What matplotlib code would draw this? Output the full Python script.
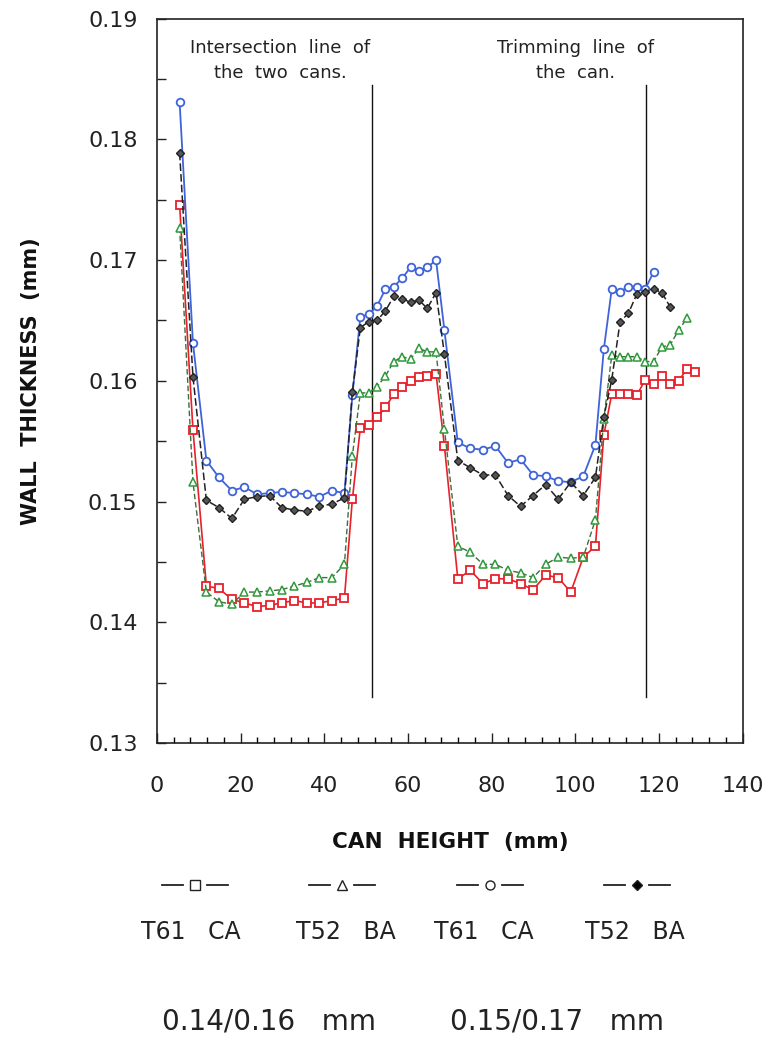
import numpy as np
import matplotlib
matplotlib.use("Agg")
import matplotlib.pyplot as plt
from matplotlib.lines import Line2D
from matplotlib.ticker import MultipleLocator, FormatStrFormatter

# ---------------- data ----------------
can_height = [5.4, 8.6, 11.8, 14.8, 17.9, 20.9, 23.9, 26.9, 29.8, 32.8, 35.8, 38.8, 41.8, 44.8,
              46.7, 48.6, 50.6, 52.6, 54.6, 56.6, 58.6, 60.6, 62.6, 64.6, 66.7, 68.7,
              71.9, 74.9, 77.9, 80.9, 83.9, 86.9, 89.9, 92.9, 95.9, 98.9, 101.9, 104.8,
              106.8, 108.7, 110.7, 112.7, 114.7, 116.7, 118.7, 120.7, 122.7, 124.7, 126.7, 128.7]

t61_ca_thin = [0.1746, 0.1559, 0.1430, 0.1428, 0.1419, 0.1416, 0.1413, 0.1414, 0.1416, 0.1418, 0.1416, 0.1416, 0.1418, 0.1420,
               0.1502, 0.1561, 0.1563, 0.1570, 0.1578, 0.1589, 0.1595, 0.1600, 0.1603, 0.1604, 0.1606, 0.1546,
               0.1436, 0.1443, 0.1432, 0.1436, 0.1436, 0.1432, 0.1427, 0.1439, 0.1437, 0.1425, 0.1454, 0.1463,
               0.1555, 0.1589, 0.1589, 0.1589, 0.1588, 0.1601, 0.1597, 0.1604, 0.1597, 0.1600, 0.1610, 0.1607]

t52_ba_thin = [0.1727, 0.1516, 0.1425, 0.1417, 0.1415, 0.1425, 0.1425, 0.1426, 0.1427, 0.1430, 0.1433, 0.1437, 0.1437, 0.1448,
               0.1538, 0.1590, 0.1590, 0.1595, 0.1604, 0.1616, 0.1620, 0.1618, 0.1627, 0.1624, 0.1624, 0.1560,
               0.1463, 0.1458, 0.1448, 0.1448, 0.1443, 0.1441, 0.1437, 0.1448, 0.1454, 0.1453, 0.1454, 0.1485,
               0.1568, 0.1621, 0.1620, 0.1620, 0.1620, 0.1616, 0.1616, 0.1628, 0.1630, 0.1642, 0.1652, np.nan]

t61_ca_thick = [0.1831, 0.1631, 0.1534, 0.1520, 0.1509, 0.1512, 0.1506, 0.1507, 0.1508, 0.1507, 0.1506, 0.1504, 0.1509, 0.1507,
                0.1588, 0.1653, 0.1655, 0.1662, 0.1676, 0.1678, 0.1685, 0.1694, 0.1691, 0.1694, 0.1700, 0.1642,
                0.1549, 0.1544, 0.1543, 0.1546, 0.1532, 0.1535, 0.1522, 0.1521, 0.1517, 0.1516, 0.1521, 0.1547,
                0.1626, 0.1676, 0.1674, 0.1678, 0.1678, 0.1676, 0.1690, np.nan, np.nan, np.nan, np.nan, np.nan]

t52_ba_thick = [0.1789, 0.1603, 0.1501, 0.1495, 0.1486, 0.1502, 0.1504, 0.1505, 0.1495, 0.1493, 0.1492, 0.1496, 0.1498, 0.1503,
                0.1591, 0.1644, 0.1649, 0.1650, 0.1658, 0.1670, 0.1668, 0.1665, 0.1667, 0.1660, 0.1673, 0.1622,
                0.1534, 0.1528, 0.1522, 0.1522, 0.1505, 0.1496, 0.1505, 0.1514, 0.1502, 0.1516, 0.1505, 0.1520,
                0.1570, 0.1601, 0.1649, 0.1656, 0.1672, 0.1674, 0.1676, 0.1673, 0.1661, np.nan, np.nan, np.nan]

marker_lines = [51.3, 117.0]
marker_texts = ["Intersection  line  of\nthe  two  cans.", "Trimming  line  of\nthe  can."]
legend_labels = ["T61   CA", "T52   BA", "T61   CA", "T52   BA"]
group_labels = ["0.14/0.16   mm", "0.15/0.17   mm"]

# ---------------- figure ----------------
plt.rcParams['font.family'] = ['DejaVu Sans']
fig = plt.figure(figsize=(7.75, 10.5), dpi=100)
ax = fig.add_axes([0.2026, 0.2924, 0.7557, 0.6898])

ax.plot(can_height, t61_ca_thin, color='#e8202a', lw=1.2, marker='s', ms=5.5,
        mfc='white', mec='#e8202a', mew=1.3, zorder=3)
ax.plot(can_height, t52_ba_thin, color='#3d6e3d', lw=1.0, ls=(0, (4, 2)), marker='^', ms=5.5,
        mfc='white', mec='#2e9a3a', mew=1.1, zorder=3)
ax.plot(can_height, t61_ca_thick, color='#3f63d8', lw=1.3, marker='o', ms=5.5,
        mfc='white', mec='#3f63d8', mew=1.3, zorder=4)
ax.plot(can_height, t52_ba_thick, color='#222222', lw=1.1, ls=(0, (5, 2)), marker='D', ms=4.5,
        mfc='#555555', mec='#222222', mew=1.0, zorder=4)

for xl in marker_lines:
    ax.plot([xl, xl], [0.1338, 0.1845], color='#111111', lw=1.0, zorder=2)

ax.text(29.4, 0.1865, marker_texts[0], ha='center', va='center', fontsize=13,
        linespacing=1.5, color='#222222')
ax.text(100.0, 0.1865, marker_texts[1], ha='center', va='center', fontsize=13,
        linespacing=1.5, color='#222222')

ax.set_xlim(0, 140)
ax.set_ylim(0.13, 0.19)
ax.xaxis.set_major_locator(MultipleLocator(20))
ax.xaxis.set_minor_locator(MultipleLocator(4))
ax.yaxis.set_major_locator(MultipleLocator(0.01))
ax.yaxis.set_minor_locator(MultipleLocator(0.005))
ax.yaxis.set_major_formatter(FormatStrFormatter('%.2f'))
ax.tick_params(axis='x', which='major', direction='in', length=7, width=1.0,
               labelsize=16, pad=24, top=False, colors='#222222')
ax.tick_params(axis='x', which='minor', direction='in', length=4, width=1.0, top=False)
ax.tick_params(axis='y', which='both', direction='in', length=6.5, width=1.0,
               labelsize=16, pad=14, right=False, colors='#222222')
for s in ax.spines.values():
    s.set_linewidth(1.2)
    s.set_color('#222222')

ax.set_xlabel('CAN  HEIGHT  (mm)', fontsize=15.5, fontweight='bold', labelpad=26, color='#111111')
ax.set_ylabel('WALL  THICKNESS  (mm)', fontsize=15, fontweight='bold', labelpad=34, color='#111111')

# ---------------- custom legend below ----------------
sym_x = [195, 342, 490, 637]
sym_markers = [('s', 'white', 6.5), ('^', 'white', 6.5), ('o', 'white', 6.5), ('D', 'black', 5.5)]
W, H = 775.0, 1050.0
ys = 1 - 885 / H
for cx, (m, fc, ms) in zip(sym_x, sym_markers):
    for a, b in [(cx - 33, cx - 12), (cx + 12, cx + 33)]:
        fig.add_artist(Line2D([a / W, b / W], [ys, ys], transform=fig.transFigure,
                              color='#222222', lw=1.3))
    fig.add_artist(Line2D([cx / W], [ys], transform=fig.transFigure, ls='none',
                          marker=m, ms=ms, mfc=fc, mec='#222222', mew=1.0))

lab_x = [191, 346, 484, 635]
for cx, lab in zip(lab_x, legend_labels):
    fig.text(cx / W, 1 - 932 / H, lab, ha='center', va='center', fontsize=17, color='#222222')

for cx, lab in zip([269, 557], group_labels):
    fig.text(cx / W, 1 - 1022 / H, lab, ha='center', va='center', fontsize=20, color='#222222')

fig.savefig('out.png', dpi=100)
